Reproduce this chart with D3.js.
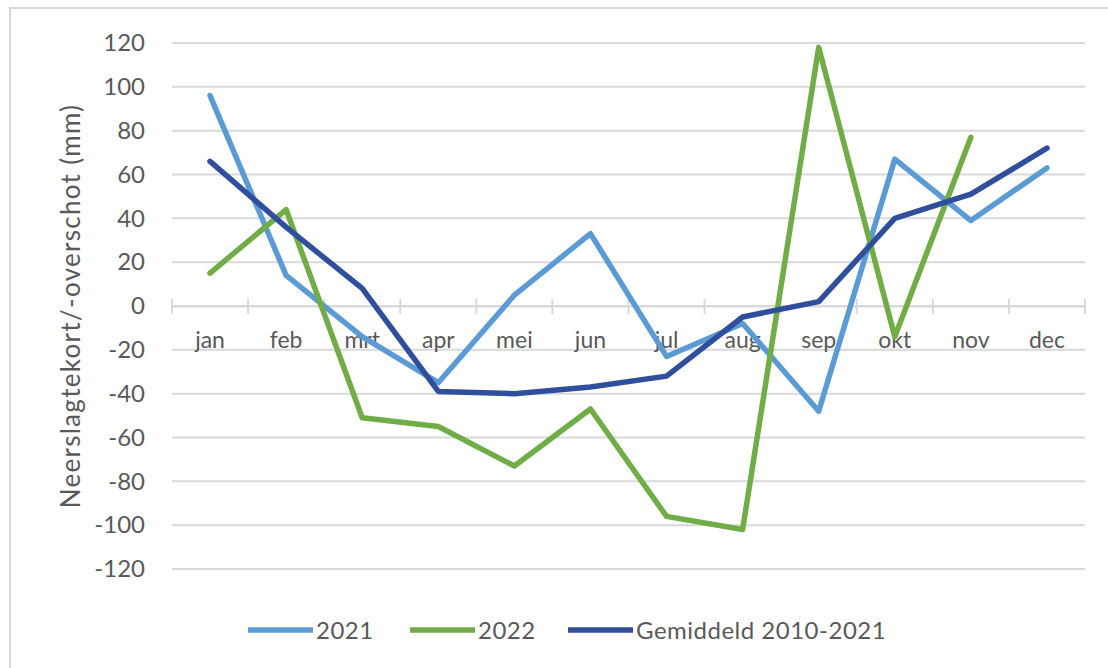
<!DOCTYPE html>
<html>
<head>
<meta charset="utf-8">
<script src="https://cdn.jsdelivr.net/npm/d3@7"></script>
<style>
  body { margin: 0; background: #fff; }
  text { font-family: Lato, "Open Sans", sans-serif; fill: #595959; }
</style>
</head>
<body>
<div id="chart"></div>
<script>
// neerslagtekort/-overschot per maand (mm)
const months = ["jan", "feb", "mrt", "apr", "mei", "jun", "jul", "aug", "sep", "okt", "nov", "dec"];
const values2021 = [96, 14, -14, -35, 5, 33, -23, -8, -48, 67, 39, 63];
const values2022 = [15, 44, -51, -55, -73, -47, -96, -102, 118, -14, 77, null];
const valuesAvg = [66, 36, 8, -39, -40, -37, -32, -5, 2, 40, 51, 72];
const yTicks = [120, 100, 80, 60, 40, 20, 0, -20, -40, -60, -80, -100, -120];

const seriesNames = ["2021", "2022", "Gemiddeld 2010-2021"];
const colors = ["#5b9bd5", "#70ad47", "#2f4f9c"];

const W = 1108, H = 668;
const margin = { top: 43, right: 23, bottom: 99, left: 172 };
const width = W - margin.left - margin.right;
const height = H - margin.top - margin.bottom;

const svg = d3.select("#chart")
  .append("svg")
  .attr("width", W)
  .attr("height", H);

// kader
svg.append("rect")
  .attr("x", 10)
  .attr("y", 8)
  .attr("width", W + 10)
  .attr("height", H + 10)
  .attr("fill", "none")
  .attr("stroke", "#d9d9d9")
  .attr("stroke-width", 2);

const g = svg.append("g")
  .attr("transform", `translate(${margin.left},${margin.top})`);

const xScale = d3.scaleBand()
  .domain(months)
  .range([0, width]);

const yScale = d3.scaleLinear()
  .domain([-120, 120])
  .range([height, 0]);

// rasterlijnen
g.append("g")
  .selectAll("line")
  .data(yTicks)
  .enter().append("line")
  .attr("x1", 0)
  .attr("x2", width)
  .attr("y1", d => yScale(d))
  .attr("y2", d => yScale(d))
  .attr("stroke", "#d9d9d9")
  .attr("stroke-width", 2);

// y-as labels (gewoon streepje als minteken)
g.append("g")
  .call(d3.axisLeft(yScale).tickValues(yTicks).tickFormat(d => String(d)).tickSize(0).tickPadding(27))
  .call(ax => ax.select(".domain").remove())
  .selectAll("text")
  .style("font-size", "24px")
  .attr("fill", "#595959");

// x-as op nul
const xAxis = g.append("g")
  .attr("transform", `translate(0,${yScale(0)})`)
  .call(d3.axisBottom(xScale).tickSize(0).tickPadding(26));
xAxis.select(".domain").attr("stroke", "#d9d9d9").attr("stroke-width", 2);
xAxis.selectAll("text").style("font-size", "23px").attr("fill", "#595959");

// maatstreepjes tussen de maanden
g.append("g")
  .selectAll("line")
  .data(d3.range(months.length + 1))
  .enter().append("line")
  .attr("x1", i => i * xScale.step())
  .attr("x2", i => i * xScale.step())
  .attr("y1", yScale(0) - 7)
  .attr("y2", yScale(0) + 8)
  .attr("stroke", "#d9d9d9")
  .attr("stroke-width", 2);

// as-titel
svg.append("text")
  .attr("transform", `translate(80,${margin.top + yScale(0)}) rotate(-90)`)
  .attr("text-anchor", "middle")
  .style("font-size", "26px")
  .style("letter-spacing", "1.3px")
  .attr("fill", "#404040")
  .text("Neerslagtekort/-overschot (mm)");

// lijnen
const line = d3.line()
  .defined(d => d != null)
  .x((d, i) => xScale(months[i]) + xScale.bandwidth() / 2)
  .y(d => yScale(d));

[values2021, values2022, valuesAvg].forEach((vals, k) => {
  g.append("path")
    .datum(vals)
    .attr("fill", "none")
    .attr("stroke", colors[k])
    .attr("stroke-width", 5.5)
    .attr("stroke-linejoin", "round")
    .attr("stroke-linecap", "round")
    .attr("d", line);
});

// legenda
const legendX = [248, 410, 568];
const legend = svg.append("g");
seriesNames.forEach((name, k) => {
  legend.append("line")
    .attr("x1", legendX[k])
    .attr("x2", legendX[k] + 65)
    .attr("y1", 630)
    .attr("y2", 630)
    .attr("stroke", colors[k])
    .attr("stroke-width", 5.5);
  legend.append("text")
    .attr("x", legendX[k] + 68)
    .attr("y", 639)
    .style("font-size", "24px")
    .style("letter-spacing", "0.5px")
    .text(name);
});
</script>
</body>
</html>
